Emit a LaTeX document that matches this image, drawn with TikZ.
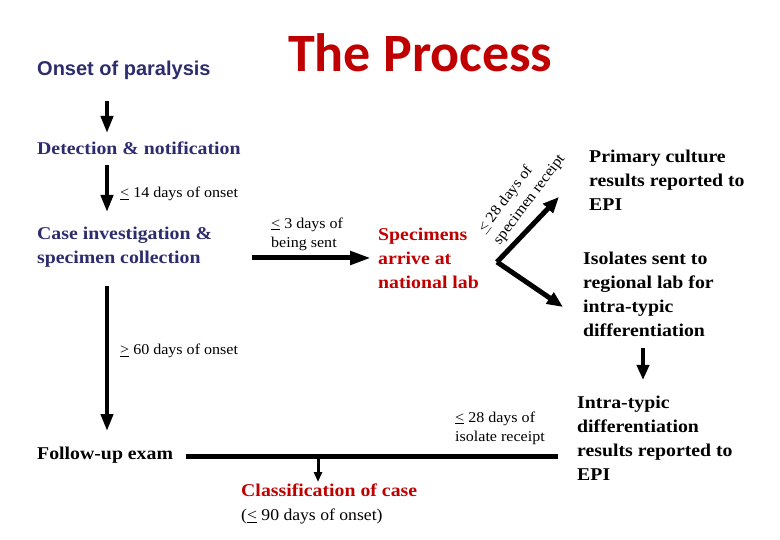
\documentclass[tikz,border=0pt]{standalone}
\usepackage{fontspec}
\setmainfont{Liberation Serif}[FakeStretch = 1.07, BoldFeatures = {FakeStretch = 1.1}]
\setsansfont{Liberation Sans}
\newfontfamily\titlefont{Carlito}
\usetikzlibrary{arrows.meta}

\definecolor{navy}{RGB}{45,45,110}
\definecolor{procred}{RGB}{192,0,0}

\newcommand{\atmost}{\underline{<}}

\tikzset{
	flow/.style = {line width = 4pt, -{Triangle[length = 17pt, width = 12pt]}},
	stage/.style = {font = \bfseries\fontsize{18}{24}\selectfont, align = left, anchor = west, inner sep = 0pt},
	note/.style = {font = \fontsize{15}{19}\selectfont, align = left, anchor = west, inner sep = 0pt}
}

\begin{document}
\begin{tikzpicture}[x = 1pt, y = -1pt]

	\useasboundingbox (0, 0) rectangle (780, 540);

	% headings
	\node[anchor = west, inner sep = 0pt, text = navy, font = \sffamily\bfseries\fontsize{20}{23}\selectfont] (onset) at (37, 70) {Onset of paralysis};
	\node[anchor = west, inner sep = 0pt, text = procred, font = \titlefont\bfseries\fontsize{54}{60}\selectfont] (title) at (288, 53) {The Process};

	% stages down the left side
	\node[stage, text = navy] (detect) at (37, 148) {Detection \& notification};
	\node[stage, text = navy] (casei) at (37, 247) {Case investigation \&\\specimen collection};
	\node[stage] (followup) at (37, 455) {Follow-up exam};

	% stages at the lab
	\node[stage, text = procred] (spec) at (378, 258) {Specimens\\arrive at\\national lab};
	\node[stage] (primary) at (589, 180) {Primary culture\\results reported to\\EPI};
	\node[stage] (isolates) at (583, 294) {Isolates sent to\\regional lab for\\intra-typic\\differentiation};
	\node[stage] (itd) at (577, 438) {Intra-typic\\differentiation\\results reported to\\EPI};
	\node[stage] (classif) at (241, 504) {\textcolor{procred}{Classification of case}\\\mdseries\fontsize{16.5}{23}\selectfont(\atmost{} 90 days of onset)};

	% time limits
	\node[note] (lbl14) at (120, 194) {\atmost{} 14 days of onset};
	\node[note] (lbl3) at (271, 234) {\atmost{} 3 days of\\being sent};
	\node[note] (lbl60) at (120, 351) {\underline{>} 60 days of onset};
	\node[note] (lbl28i) at (455, 428) {\atmost{} 28 days of\\isolate receipt};
	\node[note, anchor = center, rotate = 53] (lbl28s) at (522, 194) {\atmost{} 28 days of\\specimen receipt};

	% arrow ends
	\coordinate (onsetOut) at (107, 101);
	\coordinate (detectIn) at (107, 133);
	\coordinate (detectOut) at (107, 165);
	\coordinate (caseIn) at (107, 212);
	\coordinate (caseOut) at (107, 286);
	\coordinate (followIn) at (107, 431);
	\coordinate (caseRight) at (252, 258);
	\coordinate (specIn) at (371, 258);
	\coordinate (fork) at (497, 262);
	\coordinate (primaryIn) at (559, 197);
	\coordinate (isolatesIn) at (563, 307);
	\coordinate (isolatesOut) at (643, 348);
	\coordinate (itdIn) at (643, 380);
	\coordinate (barLeft) at (186, 456);
	\coordinate (barRight) at (558, 456);
	\coordinate (barDrop) at (318, 456);
	\coordinate (classifIn) at (318, 482);

	% connectors
	\draw[flow] (onsetOut) -- (detectIn);
	\draw[flow] (detectOut) -- (caseIn);
	\draw[flow] (caseOut) -- (followIn);
	\draw[flow, line width = 5pt, -{Triangle[length = 21pt, width = 13pt]}] (caseRight) -- (specIn);
	\draw[flow, line width = 5pt, -{Triangle[length = 16pt, width = 13pt]}] (fork) -- (primaryIn);
	\draw[flow, line width = 5pt, -{Triangle[length = 16pt, width = 13pt]}] (fork) -- (isolatesIn);
	\draw[flow, -{Triangle[length = 15pt, width = 12pt]}] (isolatesOut) -- (itdIn);
	\draw[line width = 5pt] (barLeft) -- (barRight);
	\draw[flow, line width = 3pt, -{Triangle[length = 10pt, width = 8pt]}] (barDrop) -- (classifIn);

\end{tikzpicture}
\end{document}
